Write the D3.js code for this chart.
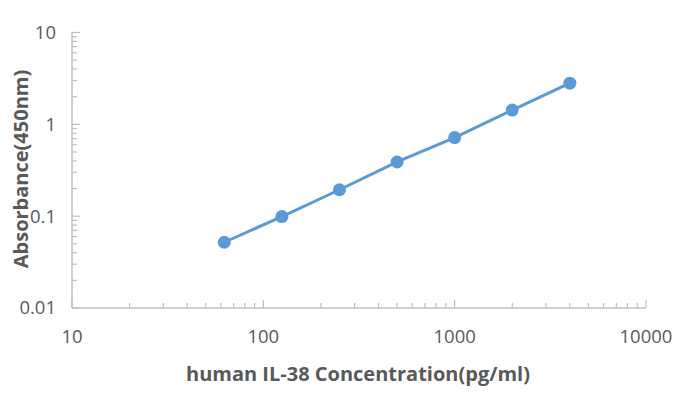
<!DOCTYPE html>
<html>
<head>
<meta charset="utf-8">
<script src="https://cdn.jsdelivr.net/npm/d3@7"></script>
<style>
  body { margin: 0; background: #fff; }
  svg { display: block; font-family: "Open Sans", "Liberation Sans", sans-serif; }
</style>
</head>
<body>
<svg id="chart"></svg>
<script>
const concentrations = [62.5, 125, 250, 500, 1000, 2000, 4000];
const absorbances = [0.052, 0.099, 0.194, 0.389, 0.718, 1.43, 2.81];
const xTicks = [10, 100, 1000, 10000];
const yTicks = [0.01, 0.1, 1, 10];

const width = 695;
const height = 395;
const margin = { top: 32.5, right: 49, bottom: 87, left: 72 };

const svg = d3.select("#chart")
  .attr("width", width)
  .attr("height", height);

const x = d3.scaleLog()
  .domain([10, 10000])
  .range([margin.left, width - margin.right]);

const y = d3.scaleLog()
  .domain([0.01, 10])
  .range([height - margin.bottom, margin.top]);

const axisColor = "#bfbfbf";
const textColor = "#595959";
const lineColor = "#5b9bd5";

// minor ticks
const minorX = [];
for (let d = 10; d < 10000; d *= 10) for (let k = 2; k <= 9; k++) minorX.push(d * k);
const minorY = [];
for (let d = 0.01; d < 10; d *= 10) for (let k = 2; k <= 9; k++) minorY.push(d * k);

const grid = svg.append("g");

// x axis
const xBase = y(0.01);
grid.append("line")
  .attr("x1", x(10)).attr("x2", x(10000))
  .attr("y1", xBase).attr("y2", xBase)
  .attr("stroke", axisColor).attr("stroke-width", 1.5);
grid.selectAll(".xmin").data(minorX).enter().append("line")
  .attr("x1", d => x(d)).attr("x2", d => x(d))
  .attr("y1", xBase).attr("y2", xBase - 5)
  .attr("stroke", axisColor).attr("stroke-width", 1.2);
grid.selectAll(".xmaj").data(xTicks).enter().append("line")
  .attr("x1", d => x(d)).attr("x2", d => x(d))
  .attr("y1", xBase).attr("y2", xBase - 8)
  .attr("stroke", axisColor).attr("stroke-width", 1.2);

// y axis
const yBase = x(10);
grid.append("line")
  .attr("x1", yBase).attr("x2", yBase)
  .attr("y1", y(0.01)).attr("y2", y(10))
  .attr("stroke", axisColor).attr("stroke-width", 1.5);
grid.selectAll(".ymin").data(minorY).enter().append("line")
  .attr("x1", yBase).attr("x2", yBase + 5)
  .attr("y1", d => y(d)).attr("y2", d => y(d))
  .attr("stroke", axisColor).attr("stroke-width", 1.2);
grid.selectAll(".ymaj").data(yTicks).enter().append("line")
  .attr("x1", yBase).attr("x2", yBase + 8)
  .attr("y1", d => y(d)).attr("y2", d => y(d))
  .attr("stroke", axisColor).attr("stroke-width", 1.2);

// tick labels
svg.selectAll(".xlab").data(xTicks).enter().append("text")
  .attr("x", d => x(d))
  .attr("y", xBase + 35)
  .attr("text-anchor", "middle")
  .attr("fill", textColor)
  .style("font-size", "18.5px")
  .text(d => d);

svg.selectAll(".ylab").data(yTicks).enter().append("text")
  .attr("x", yBase - 16)
  .attr("y", d => y(d))
  .attr("dy", "0.35em")
  .attr("text-anchor", "end")
  .attr("fill", textColor)
  .style("font-size", "18.5px")
  .text(d => d);

// axis titles
svg.append("text")
  .attr("x", 358)
  .attr("y", 381)
  .attr("text-anchor", "middle")
  .attr("fill", textColor)
  .style("font-size", "20px")
  .style("font-weight", "bold")
  .text("human IL-38 Concentration(pg/ml)");

svg.append("text")
  .attr("transform", "translate(28," + 169 + ") rotate(-90)")
  .attr("text-anchor", "middle")
  .attr("fill", textColor)
  .style("font-size", "20px")
  .style("font-weight", "bold")
  .text("Absorbance(450nm)");

// series
const data = concentrations.map((c, i) => ({ c: c, a: absorbances[i] }));

svg.append("path")
  .datum(data)
  .attr("fill", "none")
  .attr("stroke", lineColor)
  .attr("stroke-width", 3)
  .attr("d", d3.line().x(d => x(d.c)).y(d => y(d.a)));

svg.selectAll(".pt").data(data).enter().append("circle")
  .attr("cx", d => x(d.c))
  .attr("cy", d => y(d.a))
  .attr("r", 6.5)
  .attr("fill", lineColor);
</script>
</body>
</html>
